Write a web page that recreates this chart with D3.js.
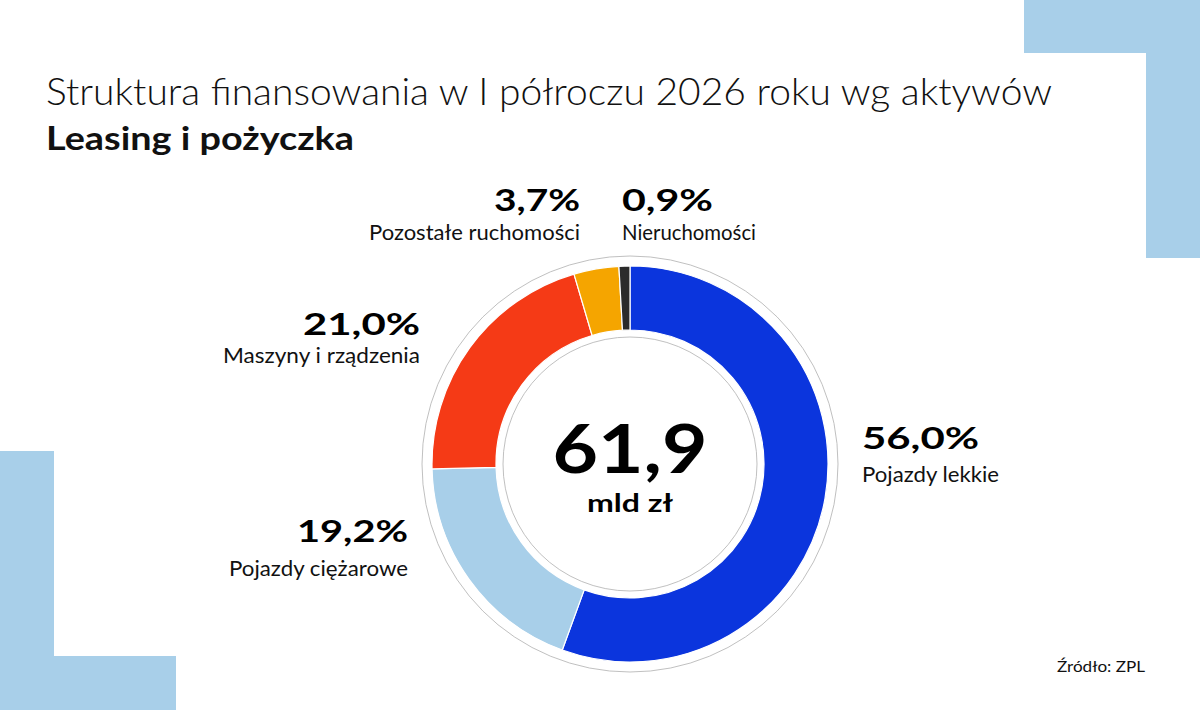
<!DOCTYPE html>
<html>
<head>
<meta charset="utf-8">
<script src="https://cdn.jsdelivr.net/npm/d3@7"></script>
<style>
  html, body { margin: 0; padding: 0; background: #fff; }
  svg { display: block; font-family: Lato, "Noto Sans", sans-serif; }
</style>
</head>
<body>
<div id="chart"></div>
<script>
// data
var categories = ["Pojazdy lekkie", "Pojazdy ciężarowe", "Maszyny i rządzenia", "Pozostałe ruchomości", "Nieruchomości"];
var shares = [56.0, 19.2, 21.0, 3.7, 0.9];
var shareLabels = ["56,0%", "19,2%", "21,0%", "3,7%", "0,9%"];
var totalValue = "61,9";
var totalUnit = "mld zł";

(function () {
    "use strict";

    var W = 1200, H = 710;
    var cx = 630, cy = 464;
    var rOuter = 198, rInner = 134;

    var colors = ["#0b35dd", "#a8cfe9", "#f53a16", "#f5a500", "#2b2b2b"];
    var deco = "#a8cfe9";

    // label placement per slice: anchor point, alignment, text widths
    var labelPos = [
        { x: 862, y: 449, dy: 33, anchor: "start", wPct: 117, wCat: 137 },
        { x: 408, y: 542, dy: 34, anchor: "end",   wPct: 111, wCat: 179 },
        { x: 420, y: 335, dy: 28, anchor: "end",   wPct: 117, wCat: 197 },
        { x: 580, y: 211, dy: 29, anchor: "end",   wPct: 86,  wCat: 211 },
        { x: 622, y: 211, dy: 29, anchor: "start", wPct: 91,  wCat: 134 }
    ];

    var svg = d3.select("#chart").append("svg")
        .attr("width", W)
        .attr("height", H);

    // decorative corner shapes
    svg.append("path")
        .attr("fill", deco)
        .attr("d", "M1024,0H1200V258H1146V53H1024Z");
    svg.append("path")
        .attr("fill", deco)
        .attr("d", "M0,451H54V656H176V710H0Z");

    // titles
    svg.append("text")
        .attr("x", 46).attr("y", 105)
        .attr("font-size", 37)
        .attr("font-weight", 300)
        .attr("fill", "#111")
        .attr("textLength", 1006)
        .attr("lengthAdjust", "spacingAndGlyphs")
        .text("Struktura finansowania w I półroczu 2026 roku wg aktywów");

    svg.append("text")
        .attr("x", 46).attr("y", 150)
        .attr("font-size", 32)
        .attr("font-weight", 700)
        .attr("fill", "#111")
        .attr("textLength", 308)
        .attr("lengthAdjust", "spacingAndGlyphs")
        .text("Leasing i pożyczka");

    var g = svg.append("g")
        .attr("transform", "translate(" + cx + "," + cy + ")");

    // thin guide rings
    g.append("circle")
        .attr("r", 208)
        .attr("fill", "none")
        .attr("stroke", "#b0b0b0")
        .attr("stroke-width", 0.8);
    g.append("circle")
        .attr("r", 127)
        .attr("fill", "none")
        .attr("stroke", "#b0b0b0")
        .attr("stroke-width", 0.8);

    var pie = d3.pie().sort(null).value(function (d) { return d; });
    var arc = d3.arc().innerRadius(rInner).outerRadius(rOuter);

    g.selectAll("path.slice")
        .data(pie(shares))
        .enter().append("path")
        .attr("class", "slice")
        .attr("d", arc)
        .attr("fill", function (d, i) { return colors[i]; })
        .attr("stroke", "#fff")
        .attr("stroke-width", 1.2);

    // center total
    g.append("text")
        .attr("y", 9)
        .attr("text-anchor", "middle")
        .attr("font-size", 66)
        .attr("font-weight", 700)
        .attr("fill", "#000")
        .attr("textLength", 155)
        .attr("lengthAdjust", "spacingAndGlyphs")
        .text(totalValue);
    g.append("text")
        .attr("y", 48)
        .attr("text-anchor", "middle")
        .attr("font-size", 25)
        .attr("font-weight", 700)
        .attr("fill", "#000")
        .attr("textLength", 86)
        .attr("lengthAdjust", "spacingAndGlyphs")
        .text(totalUnit);

    // slice labels
    var labels = svg.selectAll("g.lbl")
        .data(categories)
        .enter().append("g")
        .attr("class", "lbl");

    labels.append("text")
        .attr("x", function (d, i) { return labelPos[i].x; })
        .attr("y", function (d, i) { return labelPos[i].y; })
        .attr("text-anchor", function (d, i) { return labelPos[i].anchor; })
        .attr("font-size", 30)
        .attr("font-weight", 700)
        .attr("fill", "#000")
        .attr("textLength", function (d, i) { return labelPos[i].wPct; })
        .attr("lengthAdjust", "spacingAndGlyphs")
        .text(function (d, i) { return shareLabels[i]; });

    labels.append("text")
        .attr("x", function (d, i) { return labelPos[i].x; })
        .attr("y", function (d, i) { return labelPos[i].y + labelPos[i].dy; })
        .attr("text-anchor", function (d, i) { return labelPos[i].anchor; })
        .attr("font-size", 22)
        .attr("font-weight", 400)
        .attr("fill", "#111")
        .attr("textLength", function (d, i) { return labelPos[i].wCat; })
        .attr("lengthAdjust", "spacingAndGlyphs")
        .text(function (d) { return d; });

    // source
    svg.append("text")
        .attr("x", 1145).attr("y", 672)
        .attr("text-anchor", "end")
        .attr("font-size", 16)
        .attr("fill", "#111")
        .attr("textLength", 88)
        .attr("lengthAdjust", "spacingAndGlyphs")
        .text("Źródło: ZPL");
})();
</script>
</body>
</html>
